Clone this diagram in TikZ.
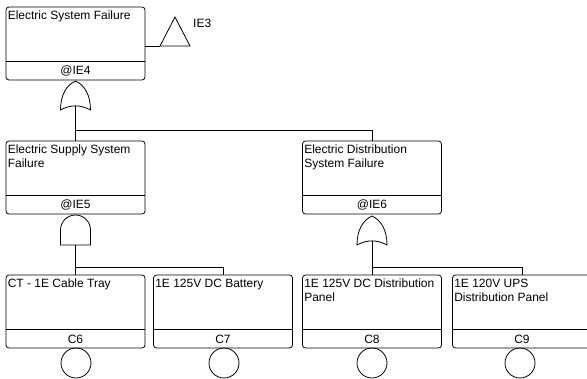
\documentclass[tikz,border=0pt]{standalone}
\usepackage{fontspec}
\setmainfont{Liberation Sans}
\usepackage{tikz}
\usetikzlibrary{positioning,calc}

\begin{document}
\begin{tikzpicture}[x=1pt,y=-1pt,
    evt/.style={draw,rounded corners=3pt,minimum width=139pt,minimum height=73pt,line width=0.8pt},
    ttl/.style={inner sep=0pt,align=left,font=\fontsize{12}{14}\selectfont},
    tag/.style={inner sep=0pt,font=\fontsize{12}{14}\selectfont},
    bas/.style={draw,circle,minimum size=30pt,inner sep=0pt,line width=0.8pt},
    lnk/.style={draw,line width=0.8pt},
    orgate/.pic={
      \draw[line width=0.8pt] (-15,29) .. controls (-15,14) and (-9,4) .. (0,0)
        .. controls (9,4) and (15,14) .. (15,29)
        .. controls (5,23.5) and (-5,23.5) .. cycle;
      \coordinate (-in) at (0,25);},
    andgate/.pic={
      \draw[line width=0.8pt] (-15,30) -- (-15,15) .. controls (-15,6.7) and (-8.3,0) .. (0,0)
        .. controls (8.3,0) and (15,6.7) .. (15,15) -- (15,30) -- cycle;
      \coordinate (-in) at (0,30);}
  ]
    \useasboundingbox (0,0) rectangle (587,378);
    \clip (0,0) rectangle (587,378);
    \foreach \n/\x/\y/\t/\c in {E4/75.5/43.5/{Electric System Failure}/@IE4,
        E5/75.5/177.5/{Electric Supply System\\Failure}/@IE5,
        E6/372/177.5/{Electric Distribution\\System Failure}/@IE6,
        C6/75.5/311.5/{CT - 1E Cable Tray}/C6,
        C7/223/311.5/{1E 125V DC Battery}/C7,
        C8/372/311.5/{1E 125V DC Distribution\\Panel}/C8,
        C9/522/311.5/{1E 120V UPS\\Distribution Panel}/C9}{
      \node[evt](\n) at (\x,\y) {};
      \draw[line width=0.8pt] ([yshift=19pt]\n.south west) -- ([yshift=19pt]\n.south east);
      \node[ttl,below right=4.5pt and 2pt of \n.north west] {\t};
      \node[tag] at ([yshift=9.5pt]\n.south) {\c};
    }
    \foreach \n/\x in {B6/76,B7/224,B8/372,B9/520}
      \node[bas](\n) at (\x,363) {};

    \pic (g4) at (75.5,81) {orgate};
    \pic (g5) at (75.5,215) {andgate};
    \pic (g6) at (372,216) {orgate};

    \coordinate (j4) at (75.5,130);
    \coordinate (j5) at (75.5,267);
    \coordinate (j6) at (372,267);
    \draw[lnk] (g4-in) -- (E5.north);
    \draw[lnk] (j4) -| (E6.north);
    \draw[lnk] (g5-in) -- (C6.north);
    \draw[lnk] (j5) -| (C7.north);
    \draw[lnk] (g6-in) -- (C8.north);
    \draw[lnk] (j6) -| (C9.north);

    \coordinate (t3) at (160,46);
    \draw[line width=0.8pt] (t3) -- (175,17) -- (190,46) -- cycle;
    \node[tag,anchor=west](IE3) at (193,23) {IE3};
    \draw[lnk] (E4.east |- t3) -- (t3);
  \end{tikzpicture}
\end{document}
